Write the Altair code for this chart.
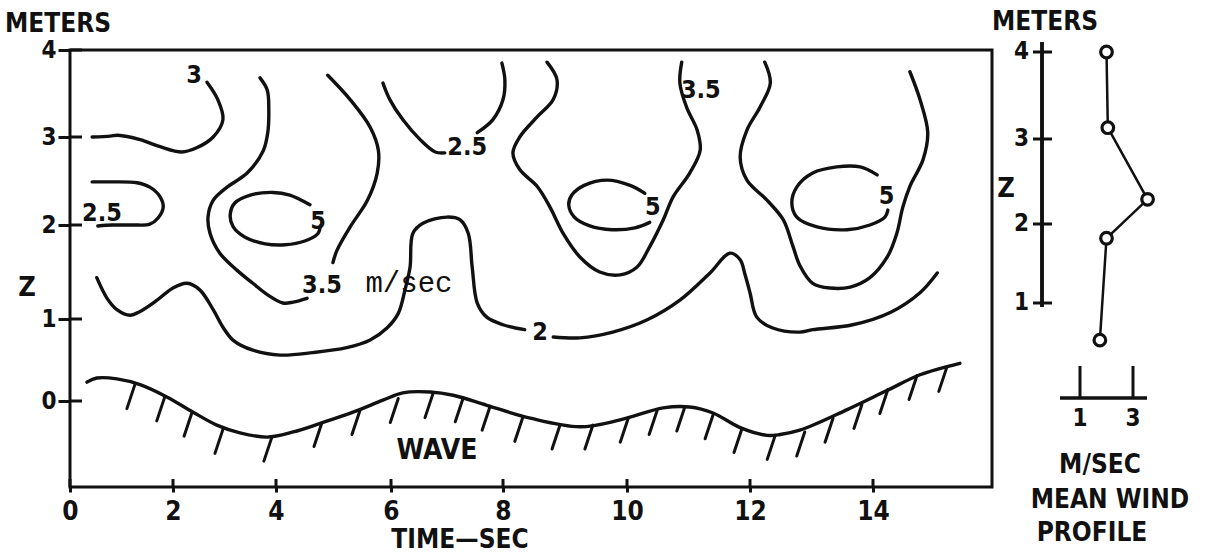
import altair as alt
import pandas as pd

# ---------------- data (time in s, height in m) ----------------
x_ticks = [0, 2, 4, 6, 8, 10, 12, 14]
y_ticks = [0, 1, 2, 3, 4]

# isotach "3" (upper left)
c3_t = [2.66, 2.87, 2.97, 2.78, 2.47, 2.17, 1.75, 1.36, 0.93, 0.78, 0.43]
c3_z = [3.63, 3.43, 3.20, 3.00, 2.88, 2.83, 2.89, 2.97, 3.02, 3.01, 3.00]
# isotach "2.5" (left lobe)
c25a_t = [0.43, 0.78, 1.30, 1.55, 1.75, 1.81, 1.71, 1.55, 1.22, 0.83, 0.54]
c25a_z = [2.49, 2.49, 2.48, 2.43, 2.32, 2.20, 2.08, 2.01, 2.00, 2.00, 1.99]
# isotach "5" loop near t=4
e1_t = [4.59, 4.24, 3.94, 3.50, 3.20, 3.11, 3.17, 3.40, 3.79, 4.16, 4.50, 4.73, 4.77]
e1_z = [2.23, 2.34, 2.37, 2.34, 2.25, 2.11, 1.98, 1.87, 1.80, 1.79, 1.83, 1.91, 1.99]
# isotach "3.5" around t=4 (two branches meeting at its label)
c35a_l_t = [3.69, 3.83, 3.86, 3.84, 3.75, 3.44, 3.05, 2.78, 2.68, 2.72, 2.91, 3.24, 3.55, 3.83, 4.12, 4.30, 4.54]
c35a_l_z = [3.68, 3.54, 3.31, 3.05, 2.84, 2.59, 2.43, 2.28, 2.09, 1.91, 1.70, 1.52, 1.38, 1.26, 1.17, 1.18, 1.22]
c35a_r_t = [4.99, 5.06, 5.29, 5.59, 5.76, 5.78, 5.64, 5.29, 4.90]
c35a_r_z = [1.60, 1.73, 1.98, 2.28, 2.59, 2.85, 3.11, 3.43, 3.71]
# isotach "2.5" near t=7
c25b_l_t = [5.86, 5.98, 6.21, 6.52, 6.79, 6.96]
c25b_l_z = [3.62, 3.43, 3.20, 2.97, 2.83, 2.82]
c25b_r_t = [7.54, 7.82, 8.00, 8.03, 7.98]
c25b_r_z = [3.05, 3.20, 3.43, 3.66, 3.85]
# isotach "3.5" around t=10
c35b_t = [8.71, 8.87, 8.81, 8.55, 8.27, 8.16, 8.27, 8.55, 8.76, 8.97, 9.24, 9.56, 9.89, 10.16, 10.37,
          10.59, 10.75, 11.02, 11.19, 11.14, 10.97, 10.86, 10.89]
c35b_z = [3.86, 3.66, 3.43, 3.23, 3.00, 2.82, 2.63, 2.44, 2.20, 1.91, 1.66, 1.50, 1.47, 1.55, 1.77,
          2.06, 2.32, 2.59, 2.85, 3.08, 3.34, 3.62, 3.86]
# isotach "5" loop near t=9.7
e2_t = [10.29, 10.05, 9.68, 9.31, 9.11, 9.06, 9.15, 9.40, 9.76, 10.13, 10.37]
e2_z = [2.36, 2.45, 2.51, 2.45, 2.34, 2.23, 2.09, 1.99, 1.95, 1.97, 2.03]
# isotach "3.5" around t=13.5
c35c_t = [12.24, 12.33, 12.16, 11.95, 11.84, 11.95, 12.28, 12.54, 12.70, 12.81, 13.02, 13.30, 13.63,
          13.95, 14.24, 14.40, 14.50, 14.62, 14.84, 14.92, 14.79, 14.62]
c35c_z = [3.86, 3.62, 3.34, 3.08, 2.77, 2.51, 2.28, 2.06, 1.77, 1.57, 1.38, 1.33, 1.34,
          1.44, 1.66, 1.91, 2.20, 2.44, 2.74, 3.05, 3.43, 3.75]
# isotach "5" loop near t=13.4
e3_t = [14.07, 13.79, 13.41, 13.02, 12.76, 12.68, 12.76, 13.09, 13.58, 13.95, 14.20, 14.25]
e3_z = [2.57, 2.66, 2.66, 2.59, 2.43, 2.25, 2.09, 1.98, 1.95, 2.00, 2.09, 2.17]
# isotach "2" (lower), split at its label
c2a_t = [0.52, 0.72, 0.91, 1.17, 1.36, 1.69, 2.00, 2.27, 2.52, 2.78, 2.97, 3.17, 3.55, 4.07, 4.64,
         5.23, 5.63, 5.93, 6.13, 6.25, 6.34, 6.39, 6.57, 7.00, 7.23, 7.38, 7.45, 7.54, 7.71, 8.00, 8.35]
c2a_z = [1.44, 1.22, 1.10, 1.04, 1.08, 1.20, 1.33, 1.38, 1.31, 1.10, 0.90, 0.74, 0.62, 0.56, 0.59,
         0.65, 0.74, 0.89, 1.06, 1.31, 1.55, 1.91, 2.02, 2.09, 2.06, 1.91, 1.55, 1.17, 1.02, 0.93, 0.87]
c2b_t = [8.81, 9.24, 9.77, 10.33, 10.86, 11.35, 11.67, 11.84, 11.92, 12.00, 12.11, 12.37, 12.81,
         13.02, 13.67, 14.29, 14.79, 15.08]
c2b_z = [0.78, 0.77, 0.84, 0.99, 1.20, 1.49, 1.70, 1.63, 1.47, 1.28, 1.02, 0.89, 0.84,
         0.87, 0.93, 1.07, 1.28, 1.49]

# water surface
wave_t = [0.33, 0.52, 0.91, 1.36, 1.88, 2.39, 2.85, 3.30, 3.83, 4.30, 4.77, 5.34, 5.86, 6.21, 6.70,
          7.11, 7.71, 8.44, 9.24, 9.89, 10.59, 11.02, 11.40, 11.84, 12.28, 12.49, 12.81, 13.58, 14.24,
          14.79, 15.46]
wave_z = [0.23, 0.28, 0.27, 0.20, 0.05, -0.13, -0.28, -0.37, -0.42, -0.36, -0.26, -0.13, 0.01, 0.10, 0.11,
          0.07, -0.05, -0.20, -0.30, -0.22, -0.08, -0.07, -0.14, -0.31, -0.40, -0.39, -0.34, -0.10, 0.13,
          0.32, 0.46]
# hatch marks under the surface (top points)
hatch_t = [1.26, 1.84, 2.37, 2.97, 3.92, 4.80, 5.46, 6.13, 6.75, 7.29, 7.77, 8.32, 8.92, 9.45, 10.02,
           10.49, 10.94, 11.40, 11.87, 12.41, 12.89, 13.35, 13.82, 14.25, 14.74, 15.24]
hatch_z = [0.20, 0.05, -0.13, -0.33, -0.42, -0.25, -0.11, 0.03, 0.09, 0.04, -0.06, -0.19, -0.28, -0.28,
           -0.20, -0.11, -0.07, -0.16, -0.32, -0.40, -0.36, -0.20, -0.04, 0.14, 0.31, 0.41]

# contour labels
label_text = ["3", "2.5", "5", "3.5", "2.5", "5", "3.5", "5", "2"]
label_t = [2.41, 0.62, 4.73, 4.80, 7.36, 10.42, 11.20, 14.23, 8.60]
label_z = [3.71, 2.14, 2.05, 1.36, 2.89, 2.20, 3.54, 2.33, 0.84]
unit_text = ["m/sec"]
unit_t = [6.32]
unit_z = [1.38]
wave_text = ["WAVE"]
wave_label_t = [6.82]
wave_label_z = [-0.58]

# mean wind profile
prof_speed = [2.0, 2.05, 3.55, 2.0, 1.75]
prof_height = [4.0, 3.13, 2.29, 1.82, 0.53]
prof_h_ticks = [1, 2, 3, 4]
wind_ticks = [1, 3]

# ---------------- build tables ----------------
segments = [
    ("c3", c3_t, c3_z), ("c25a", c25a_t, c25a_z), ("e1", e1_t, e1_z),
    ("c35al", c35a_l_t, c35a_l_z), ("c35ar", c35a_r_t, c35a_r_z),
    ("c25bl", c25b_l_t, c25b_l_z), ("c25br", c25b_r_t, c25b_r_z),
    ("c35b", c35b_t, c35b_z), ("e2", e2_t, e2_z), ("c35c", c35c_t, c35c_z),
    ("e3", e3_t, e3_z), ("c2a", c2a_t, c2a_z), ("c2b", c2b_t, c2b_z),
    ("wave", wave_t, wave_z),
]
rows = []
for name, ts, zs in segments:
    for i, (t, z) in enumerate(zip(ts, zs)):
        rows.append({"seg": name, "ord": i, "t": t, "z": z})
lines_df = pd.DataFrame(rows)
hatch_df = pd.DataFrame({"t": hatch_t, "z": hatch_z})
labels_df = pd.DataFrame({"t": label_t, "z": label_z, "text": label_text})
unit_df = pd.DataFrame({"t": unit_t, "z": unit_z, "text": unit_text})
wave_lab_df = pd.DataFrame({"t": wave_label_t, "z": wave_label_z, "text": wave_text})
xt_df = pd.DataFrame({"t": x_ticks})
yt_df = pd.DataFrame({"z": y_ticks})
prof_df = pd.DataFrame({"w": prof_speed, "h": prof_height, "ord": list(range(len(prof_speed)))})
ph_df = pd.DataFrame({"h": prof_h_ticks, "text": [str(v) for v in prof_h_ticks]})
wt_df = pd.DataFrame({"w": wind_ticks, "text": [str(v) for v in wind_ticks]})

FONT = "DejaVu Sans Condensed, Liberation Sans Narrow, Liberation Sans, DejaVu Sans"
MONO = "Liberation Mono, Courier New, DejaVu Sans Mono"
INK = "#111111"
LW = 3.4

XS = alt.Scale(domain=[0, 2, 4, 6, 8, 10, 12, 14, 16],
               range=[0, 103, 206, 321, 433, 557, 680, 803, 922], nice=False, zero=False)
YS = alt.Scale(domain=[-1, 0, 1, 2, 3, 4], range=[437, 351, 269, 175, 87, 0], nice=False, zero=False)
XAX = alt.Axis(values=x_ticks, title=None, domain=False, grid=False, tickSize=5, tickWidth=3,
               tickColor=INK, labelFont=FONT, labelFontSize=26, labelFontWeight="bold",
               labelColor=INK, labelPadding=6, labelFlush=False, labelOverlap=False)
YAX = alt.Axis(values=y_ticks, title=None, domain=False, grid=False, tickSize=12, tickWidth=3,
               tickColor=INK, labelFont=FONT, labelFontSize=24, labelFontWeight="bold",
               labelColor=INK, labelPadding=2, labelOverlap=False)


def X(f="t"):
    return alt.X(f + ":Q", scale=XS, axis=XAX)


def Y(f="z"):
    return alt.Y(f + ":Q", scale=YS, axis=YAX)


lines = alt.Chart(lines_df).mark_line(
    color=INK, strokeWidth=LW, interpolate="catmull-rom", strokeCap="round", strokeJoin="round"
).encode(x=X(), y=Y(), detail="seg:N", order="ord:Q")

hatch = alt.Chart(hatch_df).mark_rule(
    color=INK, strokeWidth=3, strokeCap="round", x2Offset=-8, y2Offset=24
).encode(x=X(), y=Y(), x2=alt.X2("t:Q"), y2=alt.Y2("z:Q"))

labels = alt.Chart(labels_df).mark_text(
    font=FONT, fontSize=25, fontWeight="bold", color=INK, align="center", baseline="middle"
).encode(x=X(), y=Y(), text="text:N")

unit = alt.Chart(unit_df).mark_text(
    font=MONO, fontSize=29, color=INK, align="center", baseline="middle"
).encode(x=X(), y=Y(), text="text:N")

wave_lab = alt.Chart(wave_lab_df).mark_text(
    font=FONT, fontSize=28, fontWeight="bold", color=INK, align="center", baseline="middle"
).encode(x=X(), y=Y(), text="text:N")

xstub = alt.Chart(xt_df).mark_rule(color=INK, strokeWidth=3).encode(
    x=X(), y=alt.value(429), y2=alt.value(437))
ystub = alt.Chart(yt_df).mark_rule(color=INK, strokeWidth=3).encode(
    y=Y(), x=alt.value(0), x2=alt.value(12))


def note(text, x, y, size=26, font=FONT, weight="bold", align="center"):
    return alt.Chart(pd.DataFrame({"text": [text]})).mark_text(
        font=font, fontSize=size, fontWeight=weight, color=INK, align=align, baseline="middle"
    ).encode(x=alt.value(x), y=alt.value(y), text="text:N")


main = alt.layer(
    lines, hatch, labels, unit, wave_lab, xstub, ystub,
    note("METERS", -12, -26), note("Z", -43, 238, size=27), note("TIME\u2014SEC", 390, 490, size=26),
)

# ---------------- mean wind profile panel ----------------
PXS = alt.Scale(domain=[1, 3], range=[1010, 1063], nice=False, zero=False)
PYS = alt.Scale(domain=[1, 2, 3, 4], range=[253, 174, 89, 2], nice=False, zero=False)
PX = alt.X("w:Q", scale=PXS, axis=None)
PY = alt.Y("h:Q", scale=PYS, axis=None)

prof_line = alt.Chart(prof_df).mark_line(color=INK, strokeWidth=2.5).encode(
    x=PX, y=PY, order="ord:Q")
prof_pts = alt.Chart(prof_df).mark_point(
    shape="circle", filled=True, fill="white", stroke=INK, strokeWidth=3.2, size=135, opacity=1
).encode(x=PX, y=PY)
h_axis = alt.Chart(ph_df).mark_rule(color=INK, strokeWidth=3).encode(
    x=alt.value(972), y=alt.value(-8), y2=alt.value(257))
h_ticks = alt.Chart(ph_df).mark_rule(color=INK, strokeWidth=3).encode(
    y=PY, x=alt.value(963), x2=alt.value(982))
h_labels = alt.Chart(ph_df).mark_text(
    font=FONT, fontSize=24, fontWeight="bold", color=INK, align="right", baseline="middle"
).encode(y=PY, x=alt.value(959), text="text:N")
w_axis = alt.Chart(wt_df).mark_rule(color=INK, strokeWidth=3).encode(
    x=alt.value(990), x2=alt.value(1077), y=alt.value(348))
w_ticks = alt.Chart(wt_df).mark_rule(color=INK, strokeWidth=3).encode(
    x=PX, y=alt.value(316), y2=alt.value(348))
w_labels = alt.Chart(wt_df).mark_text(
    font=FONT, fontSize=24, fontWeight="bold", color=INK, align="center", baseline="middle"
).encode(x=PX, y=alt.value(369), text="text:N")

profile = alt.layer(
    h_axis, h_ticks, h_labels, w_axis, w_ticks, w_labels, prof_line, prof_pts,
    note("METERS", 975, -28), note("Z", 936, 139, size=27),
    note("M/SEC", 1030, 415), note("MEAN WIND", 1040, 450), note("PROFILE", 1022, 483),
)

chart = alt.layer(main, profile).resolve_scale(
    x="independent", y="independent"
).properties(
    width=922, height=437,
    autosize=alt.AutoSizeParams(type="none"),
    padding={"left": 70, "top": 50, "right": 214, "bottom": 69},
    background="white",
).configure_view(stroke=INK, strokeWidth=3)

chart.save("out.html", embed_options={"renderer": "svg", "actions": False})
